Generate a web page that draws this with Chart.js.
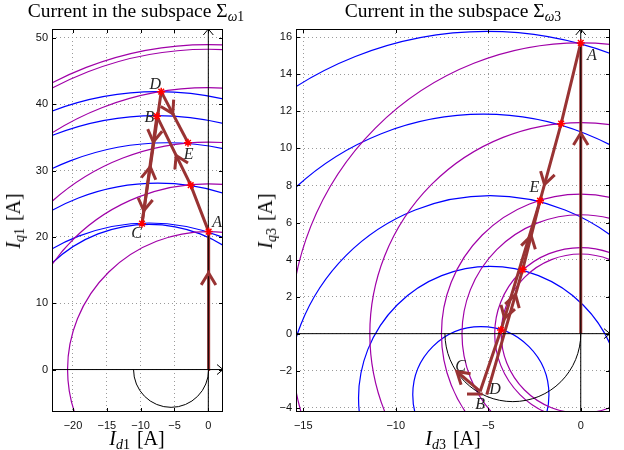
<!DOCTYPE html>
<html>
<head>
<meta charset="utf-8">
<script src="https://cdn.jsdelivr.net/npm/chart.js@4.4.1/dist/chart.umd.min.js"></script>
<style>
  body { margin: 0; width: 624px; height: 450px; position: relative; background: #fff; overflow: hidden;
         font-family: "Liberation Serif", "Times New Roman", serif; color: #000; }
  .box { position: absolute; top: 0; height: 450px; }
  .txt { position: absolute; white-space: nowrap; line-height: 20px; transform: translateX(-50%); }
  .title { font-size: 19.5px; }
  .axl { font-size: 20px; }
  .rot { transform: translate(-50%, -50%) rotate(-90deg); }
  sub { font-size: 70%; vertical-align: -0.28em; line-height: 0; }
  .gap { margin-left: 0.35em; }
</style>
</head>
<body>
<div class="box" style="left:0;width:240px"><canvas id="chart1"></canvas></div>
<div class="box" style="left:240px;width:384px"><canvas id="chart3"></canvas></div>

<div class="txt title" style="left:136px;top:1px">Current in the subspace Σ<sub><i>ω</i>1</sub></div>
<div class="txt title" style="left:453px;top:1px">Current in the subspace Σ<sub><i>ω</i>3</sub></div>
<div class="txt axl" style="left:137px;top:428px"><i>I</i><sub><i>d</i>1</sub><span class="gap">[A]</span></div>
<div class="txt axl" style="left:453px;top:428px"><i>I</i><sub><i>d</i>3</sub><span class="gap">[A]</span></div>
<div class="txt axl rot" style="left:13px;top:221px"><i>I</i><sub><i>q</i>1</sub><span class="gap">[A]</span></div>
<div class="txt axl rot" style="left:265px;top:221px"><i>I</i><sub><i>q</i>3</sub><span class="gap">[A]</span></div>

<script>
// Colours
const brown = '#993333';
const blue = '#0000ff';
const magenta = '#a000a8';
const red = '#ff0000';

// ---- Subspace omega1 (left) ----
const leftXRange = [-23.1, 2.17];
const leftYRange = [-6.4, 51.35];
const leftXTicks = [-20, -15, -10, -5, 0];
const leftYTicks = [0, 10, 20, 30, 40, 50];
// magenta circles around the origin (radius)
const leftMagentaR = [20.8, 28.0, 34.3, 42.5, 48.3, 49.0];
// blue circles [cx, cy, r]
const leftBlue = [[-7.5, -1.1, 43.0], [-7.65, -2.9, 41.2], [-6.1, -4.7, 38.9],
                  [-7.45, -3.8, 31.9], [-8.75, -6.2, 28.3], [-8.75, 1.4, 20.5]];
// black half circle [cx, cy, rx, ry]
const leftHalf = [-5.5, 0, 5.55, 5.7];
const leftPts = { O: [0, 0], A: [0.05, 20.8], P: [-2.6, 27.8], B: [-7.6, 38.2],
                  C: [-9.8, 22.0], D: [-6.96, 41.9], E: [-3.0, 34.2] };
const leftStars = ['A', 'P', 'B', 'C', 'D', 'E'];
const leftPaths = [['O', 'A'], ['A', 'P', 'B'], ['B', 'C'], ['C', 'D'], ['D', 'E']];
// chevrons: [from, to, fraction]
const leftArrows = [['O', 'A', 0.70], ['P', 'B', 0.43], ['B', 'C', 0.24], ['B', 'C', 0.88],
                    ['C', 'D', 0.43], ['D', 'E', 0.43]];
const leftLabels = [['A', 1.3, 22.2], ['B', -8.7, 38.0], ['C', -10.6, 20.5],
                    ['D', -7.85, 42.9], ['E', -2.9, 32.4]];

// ---- Subspace omega3 (right) ----
const rightXRange = [-15.39, 1.58];
const rightYRange = [-4.23, 16.45];
const rightXTicks = [-15, -10, -5, 0];
const rightYTicks = [-4, -2, 0, 2, 4, 6, 8, 10, 12, 14, 16];
const rightMagentaR = [15.7, 11.4, 7.53, 6.42, 4.65, 4.3];
const rightBlue = [[-5.4, -3.3, 3.68], [-4.9, -3.48, 7.11], [-4.9, -3.55, 11.0],
                   [-5.26, -3.15, 15.0], [-5.08, -2.98, 19.3]];
const rightHalf = [-3.67, 0, 3.67, 3.67];
const rightPts = { O: [0, 0], A: [0, 15.7], P1: [-1.06, 11.34], E: [-2.2, 7.18],
                   P2: [-3.14, 3.46], P3: [-4.31, 0.2], B: [-5.44, -3.12],
                   C: [-6.7, -2.04], D: [-5.08, -3.29], S1: [-6.15, -3.26], S2: [-5.3, -3.26] };
const rightStars = ['A', 'P1', 'E', 'P2', 'P3'];
const rightPaths = [['O', 'A'], ['A', 'P1', 'E', 'P3', 'B'], ['B', 'C'], ['D', 'P2', 'E'], ['S1', 'S2']];
const rightArrows = [['O', 'A', 0.69], ['P1', 'E', 0.79], ['P2', 'E', 0.49], ['D', 'P2', 0.8],
                     ['E', 'P3', 0.91], ['B', 'C', 1.0]];
const rightLabels = [['A', 0.6, 15.0], ['B', -5.44, -3.85], ['C', -6.5, -1.8],
                     ['D', -4.63, -3.05], ['E', -2.5, 7.85]];

function fmt(v) {
    return String(v).replace('-', '\u2212');
}

function sketchPlugin(o) {
    return {
        id: 'sketch',
        beforeDatasetsDraw(chart) {
            const { ctx, chartArea: a } = chart;
            const x = chart.scales.x, y = chart.scales.y;
            const ell = (cx, cy, rx, ry, a0, a1, color) => {
                const px = x.getPixelForValue(cx), py = y.getPixelForValue(cy);
                ctx.beginPath();
                ctx.ellipse(px, py, Math.abs(x.getPixelForValue(cx + rx) - px),
                    Math.abs(y.getPixelForValue(cy + ry) - py), 0, a0, a1);
                ctx.strokeStyle = color;
                ctx.stroke();
            };
            ctx.save();
            ctx.beginPath();
            ctx.rect(a.left, a.top, a.right - a.left, a.bottom - a.top);
            ctx.clip();
            ctx.lineWidth = 1.2;
            o.blue.forEach(c => ell(c[0], c[1], c[2], c[2], 0, 2 * Math.PI, blue));
            o.magentaR.forEach(r => ell(0, 0, r, r, 0, 2 * Math.PI, magenta));
            ctx.lineWidth = 1;
            ell(o.half[0], o.half[1], o.half[2], o.half[3], 0, Math.PI, '#000');
            ctx.restore();
        },
        afterDatasetsDraw(chart) {
            const { ctx, chartArea: a } = chart;
            const x = chart.scales.x, y = chart.scales.y;
            const pix = p => [x.getPixelForValue(p[0]), y.getPixelForValue(p[1])];
            ctx.save();
            // chevrons on the trajectory
            ctx.strokeStyle = brown;
            ctx.lineWidth = 3;
            o.arrows.forEach(([f, t, k]) => {
                const p0 = pix(o.pts[f]), p1 = pix(o.pts[t]);
                const tx = p0[0] + (p1[0] - p0[0]) * k, ty = p0[1] + (p1[1] - p0[1]) * k;
                const ang = Math.atan2(p1[1] - p0[1], p1[0] - p0[0]) + Math.PI;
                ctx.beginPath();
                ctx.moveTo(tx + 14 * Math.cos(ang - 0.55), ty + 14 * Math.sin(ang - 0.55));
                ctx.lineTo(tx, ty);
                ctx.lineTo(tx + 14 * Math.cos(ang + 0.55), ty + 14 * Math.sin(ang + 0.55));
                ctx.stroke();
            });
            // axis arrow heads
            ctx.strokeStyle = '#000';
            ctx.lineWidth = 1;
            const ex = a.right, ey = y.getPixelForValue(0);
            ctx.beginPath();
            ctx.moveTo(ex - 6, ey - 5); ctx.lineTo(ex, ey); ctx.lineTo(ex - 6, ey + 5);
            const vx = x.getPixelForValue(0), vy = a.top;
            ctx.moveTo(vx - 5, vy + 6); ctx.lineTo(vx, vy); ctx.lineTo(vx + 5, vy + 6);
            ctx.stroke();
            // point labels
            ctx.fillStyle = '#222';
            ctx.font = 'italic 16px "Liberation Serif"';
            ctx.textAlign = 'center';
            ctx.textBaseline = 'middle';
            o.labels.forEach(([s, lx, ly]) => ctx.fillText(s, x.getPixelForValue(lx), y.getPixelForValue(ly)));
            ctx.restore();
        },
        afterDraw(chart) {
            const { ctx, chartArea: a } = chart;
            const x = chart.scales.x, y = chart.scales.y;
            ctx.save();
            ctx.strokeStyle = '#000';
            ctx.lineWidth = 1;
            ctx.strokeRect(Math.round(a.left) + 0.5, Math.round(a.top) + 0.5,
                Math.round(a.right - a.left) - 1, Math.round(a.bottom - a.top) - 1);
            ctx.beginPath();
            o.xTicks.forEach(v => {
                const p = Math.round(x.getPixelForValue(v)) + 0.5;
                ctx.moveTo(p, a.bottom); ctx.lineTo(p, a.bottom - 4);
                ctx.moveTo(p, a.top); ctx.lineTo(p, a.top + 4);
            });
            o.yTicks.forEach(v => {
                const p = Math.round(y.getPixelForValue(v)) + 0.5;
                ctx.moveTo(a.left, p); ctx.lineTo(a.left + 4, p);
                ctx.moveTo(a.right, p); ctx.lineTo(a.right - 4, p);
            });
            ctx.stroke();
            ctx.restore();
        }
    };
}

function makeChart(id, o) {
    const datasets = [];
    o.paths.forEach(path => {
        datasets.push({
            data: path.map(k => ({ x: o.pts[k][0], y: o.pts[k][1] })),
            showLine: true,
            borderColor: brown,
            borderWidth: 3,
            pointRadius: 0,
            clip: 0,
            order: 3
        });
    });
    // black axes
    datasets.push({
        data: [{ x: o.xRange[0], y: 0 }, { x: o.xRange[1], y: 0 }],
        showLine: true, borderColor: '#000', borderWidth: 1, pointRadius: 0, clip: 0, order: 2
    });
    datasets.push({
        data: [{ x: 0, y: o.yRange[0] }, { x: 0, y: o.yRange[1] }],
        showLine: true, borderColor: '#000', borderWidth: 1, pointRadius: 0, clip: 0, order: 2
    });
    datasets.push({
        data: o.stars.map(k => ({ x: o.pts[k][0], y: o.pts[k][1] })),
        pointStyle: 'star',
        pointRadius: 4,
        borderColor: red,
        backgroundColor: red,
        borderWidth: 1.5,
        order: 0
    });

    const tickFont = { family: '"Liberation Sans", Arial, sans-serif', size: 11 };
    return new Chart(document.getElementById(id), {
        type: 'scatter',
        data: { datasets: datasets },
        options: {
            responsive: true,
            maintainAspectRatio: false,
            animation: false,
            events: [],
            layout: { padding: { top: 29, right: o.padRight, left: 0, bottom: 0 } },
            plugins: { legend: { display: false }, tooltip: { enabled: false } },
            scales: {
                x: {
                    type: 'linear',
                    min: o.xRange[0],
                    max: o.xRange[1],
                    afterBuildTicks: s => { s.ticks = o.xTicks.map(v => ({ value: v })); },
                    afterFit: s => { s.height = 38; },
                    grid: { color: '#9a9a9a', lineWidth: 1, drawTicks: false },
                    border: { display: false, dash: [1, 3] },
                    ticks: { font: tickFont, color: '#111', padding: 7, maxRotation: 0,
                             autoSkip: false, callback: v => fmt(v) }
                },
                y: {
                    type: 'linear',
                    min: o.yRange[0],
                    max: o.yRange[1],
                    afterBuildTicks: s => { s.ticks = o.yTicks.map(v => ({ value: v })); },
                    afterFit: s => { s.width = o.yWidth; },
                    grid: { color: '#9a9a9a', lineWidth: 1, drawTicks: false },
                    border: { display: false, dash: [1, 3] },
                    ticks: { font: tickFont, color: '#111', padding: 4,
                             autoSkip: false, callback: v => fmt(v) }
                }
            }
        },
        plugins: [sketchPlugin(o)]
    });
}

makeChart('chart1', {
    xRange: leftXRange, yRange: leftYRange, xTicks: leftXTicks, yTicks: leftYTicks,
    magentaR: leftMagentaR, blue: leftBlue, half: leftHalf, pts: leftPts, stars: leftStars,
    paths: leftPaths, arrows: leftArrows, labels: leftLabels, padRight: 17, yWidth: 52
});
makeChart('chart3', {
    xRange: rightXRange, yRange: rightYRange, xTicks: rightXTicks, yTicks: rightYTicks,
    magentaR: rightMagentaR, blue: rightBlue, half: rightHalf, pts: rightPts, stars: rightStars,
    paths: rightPaths, arrows: rightArrows, labels: rightLabels, padRight: 14, yWidth: 56
});
</script>
</body>
</html>
